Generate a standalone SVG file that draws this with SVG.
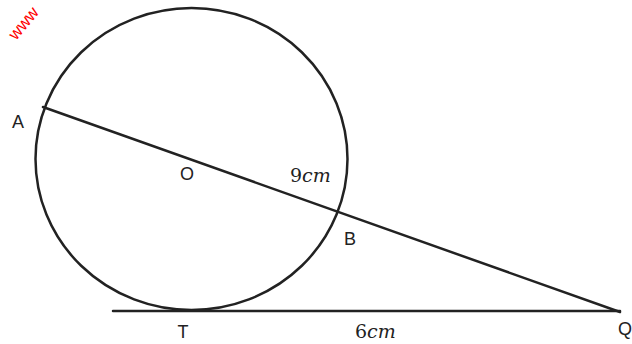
<svg xmlns="http://www.w3.org/2000/svg" width="632" height="344" viewBox="0 0 632 344">
<style>
.s{fill:none;stroke:#222;stroke-width:2.5;stroke-linecap:round}
.l{font-family:"Liberation Sans",Arial,sans-serif;font-size:18px;fill:#222}
.m{font-family:"DejaVu Serif","Liberation Serif",serif;font-size:19px;fill:#222}
.w{font-family:"Liberation Sans",Arial,sans-serif;font-size:17px;fill:#f00}
</style>
<rect width="632" height="344" fill="#fff"/>
<g id="watermark"><text class="w" transform="translate(16,41) rotate(-50)">www</text></g>
<g id="circle"><ellipse class="s" cx="191.5" cy="159" rx="156" ry="151"/></g>
<g id="connectors">
<line class="s" x1="43" y1="107" x2="620" y2="312"/>
<line class="s" x1="113" y1="311" x2="620" y2="311"/>
</g>
<g id="labels">
<text class="l" x="18" y="128" text-anchor="middle">A</text>
<text class="l" x="187" y="180" text-anchor="middle">O</text>
<text class="l" x="350" y="245" text-anchor="middle">B</text>
<text class="l" x="183" y="338" text-anchor="middle">T</text>
<text class="l" x="618" y="335">Q</text>
<text class="m" x="290" y="182">9<tspan font-style="italic">cm</tspan></text>
<text class="m" x="355" y="338">6<tspan font-style="italic">cm</tspan></text>
</g>
</svg>
